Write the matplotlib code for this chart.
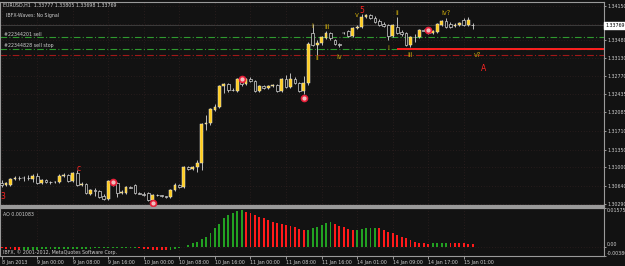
import numpy as np
import matplotlib
matplotlib.use('Agg')
import matplotlib.pyplot as plt
from matplotlib.transforms import blended_transform_factory

# EURUSD H1 candles, 8 Jan 2013 16:00 .. 15 Jan 03:00
opens = [1.3070, 1.3066, 1.3066, 1.3078, 1.3080, 1.3079, 1.3080, 1.3078, 1.3084, 1.3070,
         1.3076, 1.3072, 1.3071, 1.3072, 1.3084, 1.3085, 1.3074, 1.3089, 1.3066, 1.3068,
         1.3048, 1.3056, 1.3054, 1.3045, 1.3039, 1.3074, 1.3070, 1.3050, 1.3050, 1.3062,
         1.3066, 1.3050, 1.3049, 1.3050, 1.3037, 1.3047, 1.3046, 1.3044, 1.3043, 1.3056,
         1.3066, 1.3062, 1.3101, 1.3097, 1.3101, 1.3109, 1.3185, 1.3187, 1.3212, 1.3218,
         1.3259, 1.3262, 1.3251, 1.3249, 1.3272, 1.3262, 1.3272, 1.3268, 1.3249, 1.3259,
         1.3255, 1.3259, 1.3260, 1.3249, 1.3272, 1.3257, 1.3272, 1.3264, 1.3249, 1.3264,
         1.3362, 1.3338, 1.3342, 1.3352, 1.3362, 1.3348, 1.3340, 1.3361, 1.3366, 1.3356,
         1.3371, 1.3373, 1.3393, 1.3397, 1.3391, 1.3385, 1.3379, 1.3377, 1.3356, 1.3373,
         1.3364, 1.3362, 1.3338, 1.3354, 1.3354, 1.3367, 1.3369, 1.3362, 1.3364, 1.3377,
         1.3385, 1.3379, 1.3375, 1.3377, 1.3387, 1.3377, 1.33777]
highs = [1.3076, 1.3072, 1.3080, 1.3084, 1.3084, 1.3084, 1.3085, 1.3087, 1.3089, 1.3078,
         1.3078, 1.3074, 1.3074, 1.3087, 1.3089, 1.3087, 1.3091, 1.3095, 1.3072, 1.3070,
         1.3058, 1.3060, 1.3056, 1.3048, 1.3076, 1.3076, 1.3072, 1.3056, 1.3064, 1.3064,
         1.3068, 1.3052, 1.3052, 1.3052, 1.3048, 1.3048, 1.3047, 1.3045, 1.3058, 1.3070,
         1.3068, 1.3103, 1.3103, 1.3103, 1.3115, 1.3187, 1.3202, 1.3216, 1.3224, 1.3260,
         1.3264, 1.3264, 1.3255, 1.3274, 1.3274, 1.3274, 1.3276, 1.3270, 1.3260, 1.3260,
         1.3260, 1.3262, 1.3262, 1.3274, 1.3280, 1.3284, 1.3276, 1.3266, 1.3278, 1.3344,
         1.3379, 1.3348, 1.3356, 1.3366, 1.3364, 1.3350, 1.3342, 1.3364, 1.3367, 1.3373,
         1.3377, 1.3398, 1.3398, 1.3398, 1.3395, 1.3389, 1.3383, 1.3379, 1.3379, 1.3393,
         1.3367, 1.3364, 1.3356, 1.3360, 1.3369, 1.3369, 1.3371, 1.3367, 1.3381, 1.3387,
         1.3391, 1.3383, 1.3381, 1.3383, 1.3391, 1.3393, 1.33805]
lows = [1.3062, 1.3064, 1.3064, 1.3076, 1.3076, 1.3074, 1.3076, 1.3072, 1.3068, 1.3068,
        1.3070, 1.3068, 1.3069, 1.3070, 1.3082, 1.3072, 1.3072, 1.3064, 1.3064, 1.3048,
        1.3047, 1.3045, 1.3041, 1.3037, 1.3037, 1.3064, 1.3043, 1.3048, 1.3048, 1.3060,
        1.3048, 1.3048, 1.3045, 1.3035, 1.3035, 1.3044, 1.3043, 1.3041, 1.3041, 1.3054,
        1.3060, 1.3060, 1.3095, 1.3095, 1.3091, 1.3095, 1.3173, 1.3183, 1.3210, 1.3216,
        1.3245, 1.3247, 1.3249, 1.3247, 1.3259, 1.3260, 1.3266, 1.3247, 1.3247, 1.3253,
        1.3253, 1.3257, 1.3247, 1.3247, 1.3255, 1.3255, 1.3262, 1.3247, 1.3243, 1.3260,
        1.3336, 1.3319, 1.3338, 1.3350, 1.3348, 1.3338, 1.3334, 1.3360, 1.3354, 1.3354,
        1.3369, 1.3371, 1.3391, 1.3389, 1.3381, 1.3375, 1.3373, 1.3348, 1.3354, 1.3360,
        1.3356, 1.3336, 1.3334, 1.3344, 1.3352, 1.3365, 1.3360, 1.3360, 1.3362, 1.3375,
        1.3371, 1.3371, 1.3373, 1.3375, 1.3375, 1.3375, 1.33698]
closes = [1.3066, 1.3070, 1.3078, 1.3080, 1.3079, 1.3080, 1.3079, 1.3084, 1.3070, 1.3076,
          1.3072, 1.3071, 1.3072, 1.3084, 1.3085, 1.3074, 1.3089, 1.3066, 1.3068, 1.3050,
          1.3056, 1.3054, 1.3043, 1.3039, 1.3074, 1.3070, 1.3050, 1.3052, 1.3062, 1.3061,
          1.3050, 1.3049, 1.3047, 1.3037, 1.3047, 1.3046, 1.3044, 1.3043, 1.3056, 1.3066,
          1.3062, 1.3101, 1.3097, 1.3101, 1.3109, 1.3185, 1.3187, 1.3214, 1.3218, 1.3259,
          1.3262, 1.3251, 1.3250, 1.3272, 1.3262, 1.3272, 1.3268, 1.3249, 1.3259, 1.3255,
          1.3259, 1.3260, 1.3249, 1.3272, 1.3257, 1.3272, 1.3264, 1.3249, 1.3264, 1.3340,
          1.3338, 1.3342, 1.3354, 1.3362, 1.3352, 1.3340, 1.3338, 1.3362, 1.3356, 1.3371,
          1.3373, 1.3393, 1.3397, 1.3391, 1.3383, 1.3377, 1.3375, 1.3356, 1.3377, 1.3362,
          1.3360, 1.3338, 1.3354, 1.3353, 1.3367, 1.3366, 1.3362, 1.3366, 1.3379, 1.3385,
          1.3373, 1.3373, 1.3377, 1.3381, 1.3377, 1.3387, 1.33769]

# Awesome Oscillator, one value per bar
ao = [-0.0006, -0.0008, -0.0010, -0.0012, -0.0014,
      -0.00135, -0.0013, -0.00125, -0.0012, -0.00115, -0.0011, -0.00106, -0.00102, -0.00098,
      -0.00094, -0.0009, -0.00087, -0.00084, -0.00081, -0.00078, -0.00075, -0.00072, -0.0007,
      -0.00068, -0.00066, -0.00064, -0.00062, -0.0006, -0.00058, -0.00056, -0.00054,
      -0.0007, -0.0009, -0.0011, -0.0012, -0.0013, -0.0014, -0.0015,
      -0.0013, -0.0010, -0.0006, -0.0001,
      0.0007, 0.0014, 0.0020, 0.0030, 0.0041, 0.0055, 0.0075, 0.0092, 0.0116, 0.0129,
      0.0136, 0.0144, 0.0150,
      0.0143, 0.0136, 0.0129, 0.0122, 0.0116, 0.0109, 0.0102, 0.0095, 0.0092, 0.0088,
      0.0084, 0.0079, 0.0073, 0.0066,
      0.0068, 0.0075, 0.0079, 0.0088, 0.0096, 0.0100,
      0.0092, 0.0086, 0.0080, 0.0073, 0.0068,
      0.0069, 0.0071, 0.0075, 0.0077, 0.0078,
      0.0075, 0.0068, 0.0061, 0.0055, 0.0048, 0.0039, 0.0034, 0.0027, 0.0021, 0.0015,
      0.0013, 0.0012,
      0.0013, 0.0014, 0.0015, 0.0016,
      0.0015, 0.00145, 0.0014, 0.0013, 0.0012, 0.001083]

price_ticks = [1.34150, 1.33800, 1.33480, 1.33130, 1.32770, 1.32435, 1.32085,
               1.31710, 1.31350, 1.31000, 1.30640, 1.30290]
time_ticks = [0, 8, 16, 24, 32, 40, 48, 56, 64, 72, 80, 88, 96, 104]
time_labels = ['8 Jan 2013', '9 Jan 00:00', '9 Jan 08:00', '9 Jan 16:00', '10 Jan 00:00',
               '10 Jan 08:00', '10 Jan 16:00', '11 Jan 00:00', '11 Jan 08:00', '11 Jan 16:00',
               '14 Jan 01:00', '14 Jan 09:00', '14 Jan 17:00', '15 Jan 01:00']

sell_level = 1.3354
sell_stop_level = 1.3330
stop_red_level = 1.3319
target_start = 89
bid = 1.33769

# wave marks: bar, price, text
red_marks = [(0.3, 1.3043, '3'), (17.3, 1.3099, 'c'), (81, 1.3406, '5'), (108.5, 1.3292, 'A')]
circle_marks = [(25, 1.3072), (34, 1.3030), (54, 1.3272), (68, 1.3236), (96, 1.3367)]
wave_marks = [(70, 1.3375, 'i'), (73.3, 1.3373, 'iii'), (71, 1.3313, 'ii'), (76, 1.3315, 'iv'),
              (79.8, 1.3397, 'v'), (89, 1.3400, 'ii'), (87, 1.3332, 'i'), (92, 1.3319, 'iii'),
              (100, 1.3401, 'iv?'), (107, 1.3319, 'v?')]

BG = '#121212'
FG = '#cfcfcf'
FS = 3.4

fig = plt.figure(figsize=(6.25, 2.66), dpi=100, facecolor=BG)
W, H = 625.0, 266.0
ax = fig.add_axes([0, (H - 206) / H, 604 / W, 204 / H], facecolor=BG)
ax2 = fig.add_axes([0, (H - 256) / H, 604 / W, 48 / H], facecolor=BG, sharex=ax)

x = np.arange(len(closes))
o = np.array(opens)
h = np.array(highs)
l = np.array(lows)
c = np.array(closes)
up = c >= o
body = np.maximum(np.abs(c - o), 0.00005)
bot = np.minimum(o, c)

ax.vlines(x, l, h, color='#bdbdbd', lw=0.7, zorder=3)
ax.bar(x[up], body[up], bottom=bot[up], width=0.62, color='#ffcc1a',
       edgecolor='#e6e6e6', linewidth=0.35, zorder=4)
ax.bar(x[~up], body[~up], bottom=bot[~up], width=0.62, color='#111111',
       edgecolor='#d4d4d4', linewidth=0.5, zorder=4)

# order lines
ax.axhline(sell_level, color='#2f9a2f', lw=0.8, ls=(0, (6, 2, 1, 2)), zorder=2)
ax.axhline(sell_stop_level, color='#2f9a2f', lw=0.8, ls=(0, (6, 2, 1, 2)), zorder=2)
ax.axhline(stop_red_level, color='#a01818', lw=0.8, ls=(0, (6, 2, 1, 2)), zorder=2)
ax.hlines(sell_stop_level, target_start, 140, color='#ff2020', lw=1.4, zorder=2)
ax.axhline(bid, color='#3c3c3c', lw=0.7, zorder=1)

for bx, py, t in red_marks:
    ax.text(bx, py, t, color='#ff2424', fontsize=5.5, ha='center', va='center', zorder=6, clip_on=False)
for bx, py in circle_marks:
    ax.scatter([bx], [py], s=20, color='#e8203a', zorder=6, clip_on=True)
    ax.scatter([bx], [py], s=4, color='#f0c0c0', zorder=7, clip_on=True)
for bx, py, t in wave_marks:
    ax.text(bx, py, t, color='#c8a80c', fontsize=4.8, ha='center', va='center', zorder=6)

ax.set_xlim(-0.36, 135.55)
ax.set_ylim(1.302511, 1.342189)
ax.set_yticks(price_ticks)
ax.set_yticklabels(['%.5f' % p for p in price_ticks])
ax.yaxis.tick_right()
ax.tick_params(axis='y', labelsize=FS, colors=FG, length=1.5, pad=0.8, width=0.5)
ax.tick_params(axis='x', bottom=False, labelbottom=False)
ax.set_xticks(time_ticks)
ax.grid(True, color='#3a2626', ls=(0, (1, 3)), lw=0.5)

# bid price box on the axis
tr = blended_transform_factory(ax.transAxes, ax.transData)
ax.text(1.002, bid, '%.5f' % bid, transform=tr, fontsize=FS, color='black', va='center', ha='left',
        bbox=dict(boxstyle='square,pad=0.2', fc='white', ec='white'), clip_on=False, zorder=10)

# oscillator
ao_v = np.array(ao)
ao_col = ['#ff1a1a'] + ['#22a022' if ao_v[i] >= ao_v[i - 1] else '#ff1a1a' for i in range(1, len(ao_v))]
ax2.bar(x, ao_v, width=0.42, color=ao_col, zorder=3)
ax2.set_ylim(-0.0038, 0.01575)
ax2.yaxis.tick_right()
ax2.set_yticks([0.01575, 0.0, -0.0038])
ax2.set_yticklabels(['0.01575', '0.00', '-0.00380'])
ax2.tick_params(axis='y', labelsize=FS, colors=FG, length=1.5, pad=0.8, width=0.5)
ylabs = ax2.get_yticklabels()
ylabs[0].set_va('top')
ylabs[1].set_va('bottom')
ylabs[2].set_va('bottom')
ax2.set_xticks(time_ticks)
ax2.set_xticklabels(time_labels, ha='left')
ax2.tick_params(axis='x', labelsize=FS, colors=FG, length=2, pad=1.0, width=0.5)
ax2.grid(True, color='#3a2626', ls=(0, (1, 3)), lw=0.5)

for a in (ax, ax2):
    for s in a.spines.values():
        s.set_color('#9a9a9a')
        s.set_linewidth(0.8)
ax.spines['bottom'].set_linewidth(1.6)
ax2.spines['top'].set_linewidth(1.6)

fig.text(3 / W, 1 - 5 / H, 'EURUSD,H1  1.33777 1.33805 1.33698 1.33769', fontsize=FS, color=FG, va='center')
fig.text(6 / W, 1 - 16 / H, 'IBFX-Waves: No Signal', fontsize=FS, color=FG, va='center')
fig.text(4 / W, 1 - 34 / H, '#22344201 sell', fontsize=FS, color=FG, va='center')
fig.text(4 / W, 1 - 46 / H, '#22344828 sell stop', fontsize=FS, color=FG, va='center')
fig.text(3 / W, 1 - 214 / H, 'AO 0.001083', fontsize=FS, color=FG, va='center')
fig.text(3 / W, 1 - 252 / H, 'IBFX, \u00a9 2001-2012, MetaQuotes Software Corp.', fontsize=FS, color=FG, va='center')

fig.savefig('out.png', dpi=100, facecolor=BG)
